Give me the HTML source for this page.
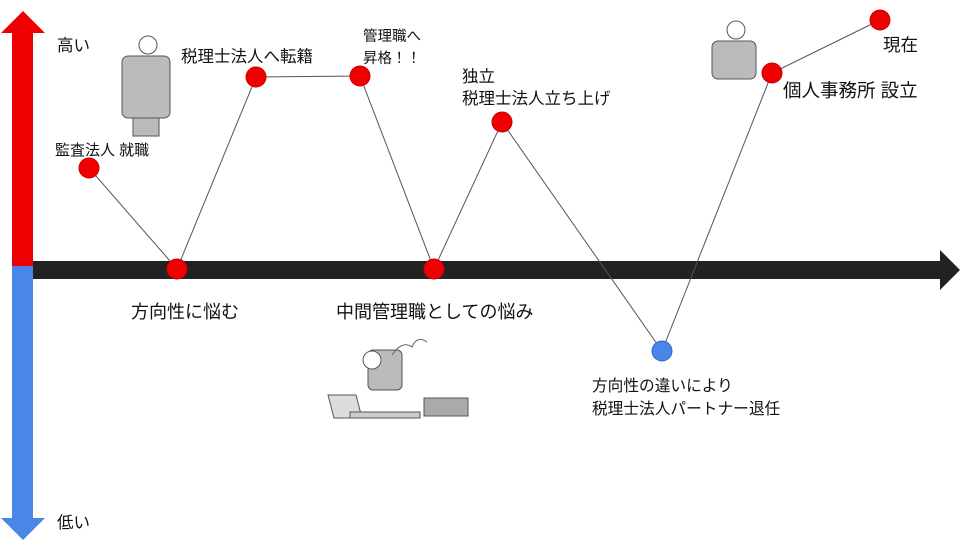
<!DOCTYPE html>
<html><head><meta charset="utf-8"><style>
body{margin:0;background:#fff}
svg text{font-family:"Liberation Sans","Noto Sans CJK JP",sans-serif;fill:#111}
</style></head><body>
<svg width="960" height="540" viewBox="0 0 960 540" xmlns="http://www.w3.org/2000/svg">
<rect width="960" height="540" fill="#fff"/>
<polygon points="23,11 45,33 33,33 33,266 12,266 12,33 1,33" fill="#ee0000"/>
<polygon points="12,266 33,266 33,518 45,518 23,540 1,518 12,518" fill="#4a86e8"/>
<polygon points="33,261 940,261 940,250 960,270 940,290 940,279 33,279" fill="#222"/>
<polyline points="89,168 177,269 256,77 360,76 434,269 502,122 662,351 772,73 880,20" fill="none" stroke="#555" stroke-width="1"/>
<g fill="#ee0000" stroke="#c00" stroke-width="1">
<circle cx="89" cy="168" r="10"/><circle cx="177" cy="269" r="10"/><circle cx="256" cy="77" r="10"/>
<circle cx="360" cy="76" r="10"/><circle cx="434" cy="269" r="10"/><circle cx="502" cy="122" r="10"/>
<circle cx="772" cy="73" r="10"/><circle cx="880" cy="20" r="10"/>
</g>
<circle cx="662" cy="351" r="10" fill="#4a86e8" stroke="#36c"/>
<g fill="#bbb" stroke="#555" stroke-width="1">
<circle cx="148" cy="45" r="9" fill="#fff"/>
<rect x="122" y="56" width="48" height="62" rx="6"/>
<rect x="133" y="118" width="26" height="18"/>
<circle cx="736" cy="30" r="9" fill="#fff"/>
<rect x="712" y="41" width="44" height="38" rx="6"/>
<rect x="368" y="350" width="34" height="40" rx="5"/>
<circle cx="372" cy="360" r="9" fill="#fff"/>
<polygon points="328,395 356,395 362,418 334,418" fill="#ddd"/>
<rect x="350" y="412" width="70" height="6" fill="#ccc"/>
<rect x="424" y="398" width="44" height="18" fill="#aaa"/>
</g>
<path d="M392,355 q10,-15 20,-8 q5,-12 15,-5" fill="none" stroke="#666"/>
<text x="57" y="51" font-size="16.5">高い</text>
<text x="57" y="528" font-size="16.5">低い</text>
<text x="55" y="155" font-size="15">監査法人 就職</text>
<text x="181" y="62" font-size="16.5">税理士法人へ転籍</text>
<text x="363" y="41" font-size="14.5">管理職へ</text>
<text x="363" y="63" font-size="14.5">昇格！！</text>
<text x="462" y="82" font-size="16.5">独立</text>
<text x="462" y="104" font-size="16.5">税理士法人立ち上げ</text>
<text x="883" y="51" font-size="17.5">現在</text>
<text x="783" y="97" font-size="18.5">個人事務所 設立</text>
<text x="131" y="318" font-size="18">方向性に悩む</text>
<text x="336" y="318" font-size="18">中間管理職としての悩み</text>
<text x="592" y="391" font-size="15.7">方向性の違いにより</text>
<text x="592" y="414" font-size="15.7">税理士法人パートナー退任</text>
</svg>
</body></html>
